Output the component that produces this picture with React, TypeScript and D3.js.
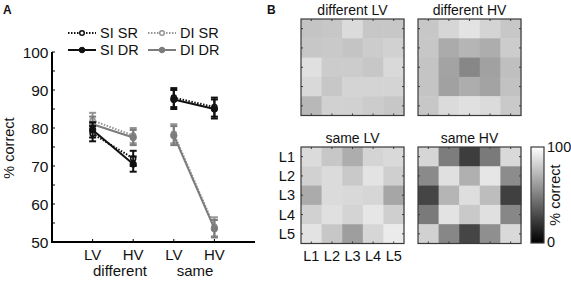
import React from "react";
import * as d3 from "d3";

const conditions = ["LV", "HV", "LV", "HV"];
const groups = ["different", "same"];
const yTicks = [50, 60, 70, 80, 90, 100];

const siSR = [78.5, 72, 88, 85.5];
const siSRErr = [2, 2, 2.5, 2.5];
const siDR = [79.5, 70.5, 87.5, 85];
const siDRErr = [2, 2, 2.5, 2.5];
const diSR = [82, 78, 78.5, 54];
const diSRErr = [2, 2, 2.5, 2.5];
const diDR = [81, 77.5, 78, 53.5];
const diDRErr = [2, 2, 2.5, 2.3];

const levels = ["L1", "L2", "L3", "L4", "L5"];
const diffLV = [
  [77, 78, 86, 78, 78],
  [78, 79, 77, 80, 82],
  [88, 80, 80, 78, 85],
  [85, 78, 83, 83, 83],
  [72, 82, 82, 80, 78],
];
const diffHV = [
  [78, 84, 89, 83, 78],
  [78, 67, 71, 68, 80],
  [77, 64, 53, 63, 75],
  [77, 63, 68, 64, 76],
  [78, 86, 88, 86, 79],
];
const sameLV = [
  [86, 78, 68, 83, 85],
  [82, 86, 79, 89, 81],
  [67, 86, 85, 84, 65],
  [82, 88, 83, 90, 81],
  [89, 78, 62, 84, 92],
];
const sameHV = [
  [84, 49, 24, 48, 85],
  [54, 88, 69, 90, 55],
  [27, 71, 87, 74, 25],
  [48, 89, 79, 88, 53],
  [82, 53, 27, 56, 85],
];

const FONT = "Liberation Sans, Arial, sans-serif";

type Series = { name: string; vals: number[]; err: number[]; color: string; dashed: boolean; open: boolean };

const series: Series[] = [
  { name: "DI SR", vals: diSR, err: diSRErr, color: "#959595", dashed: true, open: true },
  { name: "DI DR", vals: diDR, err: diDRErr, color: "#7c7c7c", dashed: false, open: false },
  { name: "SI SR", vals: siSR, err: siSRErr, color: "#111", dashed: true, open: true },
  { name: "SI DR", vals: siDR, err: siDRErr, color: "#111", dashed: false, open: false },
];

const gray = d3.scaleLinear<string>().domain([0, 100]).range(["#000000", "#ffffff"]);

function Heatmap({ data, x0, y0, title, rowLabels, colLabels }: { data: number[][]; x0: number; y0: number; title: string; rowLabels?: boolean; colLabels?: boolean }) {
  const w = 103, h = 96.5;
  const xs = d3.scaleBand<string>().domain(levels).range([x0, x0 + w]);
  const ys = d3.scaleBand<string>().domain(levels).range([y0, y0 + h]);
  const tk = 2;
  return (
    <g>
      <text x={x0 + w / 2} y={y0 - 4.5} textAnchor="middle" fontSize={14} fontFamily={FONT} fill="#111">{title}</text>
      {data.map((row, i) =>
        row.map((v, j) => (
          <rect key={`${i}-${j}`} x={xs(levels[j])} y={ys(levels[i])} width={xs.bandwidth() + 0.5} height={ys.bandwidth() + 0.5} fill={gray(v)} />
        ))
      )}
      <rect x={x0} y={y0} width={w} height={h} fill="none" stroke="#3a3a3a" strokeWidth={1.2} />
      {levels.map((l) => {
        const cx = xs(l)! + xs.bandwidth() / 2;
        const cy = ys(l)! + ys.bandwidth() / 2;
        return (
          <g key={l} stroke="#3a3a3a" strokeWidth={1}>
            <line x1={cx} x2={cx} y1={y0} y2={y0 + tk} />
            <line x1={cx} x2={cx} y1={y0 + h} y2={y0 + h - tk} />
            <line x1={x0} x2={x0 + tk} y1={cy} y2={cy} />
            <line x1={x0 + w} x2={x0 + w - tk} y1={cy} y2={cy} />
          </g>
        );
      })}
      {rowLabels && levels.map((l) => (
        <text key={"r" + l} x={x0 - 6} y={ys(l)! + ys.bandwidth() / 2 + 5} textAnchor="end" fontSize={14.5} fontFamily={FONT} fill="#111">{l}</text>
      ))}
      {colLabels && levels.map((l) => (
        <text key={"c" + l} x={xs(l)! + xs.bandwidth() / 2} y={y0 + h + 17} textAnchor="middle" fontSize={14.5} fontFamily={FONT} fill="#111">{l}</text>
      ))}
    </g>
  );
}

export default function App() {
  const x = d3.scaleLinear().domain([0, 5]).range([52, 255]);
  const y = d3.scaleLinear().domain([50, 100]).range([242, 52]);
  const segs = [[0, 1], [2, 3]];
  const minorTicks = d3.range(50, 101, 5);

  const legend = [
    { s: series[2], lx: 68, ly: 33 },
    { s: series[0], lx: 148, ly: 33 },
    { s: series[3], lx: 68, ly: 50 },
    { s: series[1], lx: 148, ly: 50 },
  ];

  return (
    <svg width={571} height={283} style={{ position: "absolute", left: 0, top: 0, background: "#fff" }}>
      <rect width={571} height={283} fill="#fff" />
      {/* Panel A */}
      <text x={3} y={14} fontSize={12} fontWeight="bold" fontFamily={FONT} fill="#111">A</text>
      <line x1={x(0)} x2={x(0)} y1={y(100)} y2={y(50)} stroke="#000" strokeWidth={2} />
      <line x1={x(0) - 1} x2={x(5)} y1={y(50)} y2={y(50)} stroke="#000" strokeWidth={2} />
      {minorTicks.map((t) => (
        <line key={t} x1={x(0)} x2={x(0) + 3} y1={y(t)} y2={y(t)} stroke="#000" strokeWidth={1} />
      ))}
      {yTicks.map((t) => (
        <text key={t} x={48.5} y={y(t) + 5.5} textAnchor="end" fontSize={15.5} fontFamily={FONT} fill="#111">{t}</text>
      ))}
      {conditions.map((c, i) => (
        <g key={i}>
          <line x1={x(i + 1)} x2={x(i + 1)} y1={y(50)} y2={y(50) - 3} stroke="#000" strokeWidth={1} />
          <text x={x(i + 1)} y={260} textAnchor="middle" fontSize={15} fontFamily={FONT} fill="#111">{c}</text>
        </g>
      ))}
      <text x={120} y={276} textAnchor="middle" fontSize={15} fontFamily={FONT} fill="#111">{groups[0]}</text>
      <text x={195} y={276} textAnchor="middle" fontSize={15} fontFamily={FONT} fill="#111">{groups[1]}</text>
      <text transform={`translate(14,${148}) rotate(-90)`} textAnchor="middle" fontSize={14.5} fontFamily={FONT} fill="#111">% correct</text>

      {series.map((s) => (
        <g key={s.name}>
          {segs.map(([a, b]) => (
            <line key={a} x1={x(a + 1)} y1={y(s.vals[a])} x2={x(b + 1)} y2={y(s.vals[b])} stroke={s.color} strokeWidth={2} strokeDasharray={s.dashed ? "1.5,1.5" : undefined} />
          ))}
          {s.vals.map((v, i) => (
            <g key={i} stroke={s.color} strokeWidth={2}>
              <line x1={x(i + 1)} x2={x(i + 1)} y1={y(v - s.err[i])} y2={y(v + s.err[i])} />
              <line x1={x(i + 1) - 3.5} x2={x(i + 1) + 3.5} y1={y(v - s.err[i])} y2={y(v - s.err[i])} />
              <line x1={x(i + 1) - 3.5} x2={x(i + 1) + 3.5} y1={y(v + s.err[i])} y2={y(v + s.err[i])} />
            </g>
          ))}
          {s.vals.map((v, i) => (
            <circle key={"c" + i} cx={x(i + 1)} cy={y(v)} r={s.open ? 2.5 : 3.2} fill={s.open ? "#fff" : s.color} stroke={s.color} strokeWidth={s.open ? 1.5 : 1} />
          ))}
        </g>
      ))}

      {legend.map(({ s, lx, ly }) => (
        <g key={s.name}>
          <line x1={lx} x2={lx + 28} y1={ly} y2={ly} stroke={s.color} strokeWidth={2} strokeDasharray={s.dashed ? "1.5,1.5" : undefined} />
          <circle cx={lx + 14} cy={ly} r={s.open ? 2.3 : 2.8} fill={s.open ? "#fff" : s.color} stroke={s.color} strokeWidth={s.open ? 1.5 : 1} />
          <text x={lx + 32} y={ly + 5} fontSize={14.5} fontFamily={FONT} fill="#111">{s.name}</text>
        </g>
      ))}

      {/* Panel B */}
      <text x={267} y={14} fontSize={12} fontWeight="bold" fontFamily={FONT} fill="#111">B</text>
      <Heatmap data={diffLV} x0={301} y0={19} title="different LV" />
      <Heatmap data={diffHV} x0={418} y0={19} title="different HV" />
      <Heatmap data={sameLV} x0={301} y0={147} title="same LV" rowLabels colLabels />
      <Heatmap data={sameHV} x0={418} y0={147} title="same HV" />

      <defs>
        <linearGradient id="cbar" x1="0" y1="1" x2="0" y2="0">
          <stop offset="0%" stopColor={gray(0)} />
          <stop offset="100%" stopColor={gray(100)} />
        </linearGradient>
      </defs>
      <rect x={531} y={147} width={13} height={96} fill="url(#cbar)" stroke="#3a3a3a" strokeWidth={1.2} />
      <text x={547} y={152} fontSize={14.5} fontFamily={FONT} fill="#111">100</text>
      <text x={547} y={246.5} fontSize={14.5} fontFamily={FONT} fill="#111">0</text>
      <text transform={`translate(560,195) rotate(-90)`} textAnchor="middle" fontSize={14.5} fontFamily={FONT} fill="#111">% correct</text>
    </svg>
  );
}
